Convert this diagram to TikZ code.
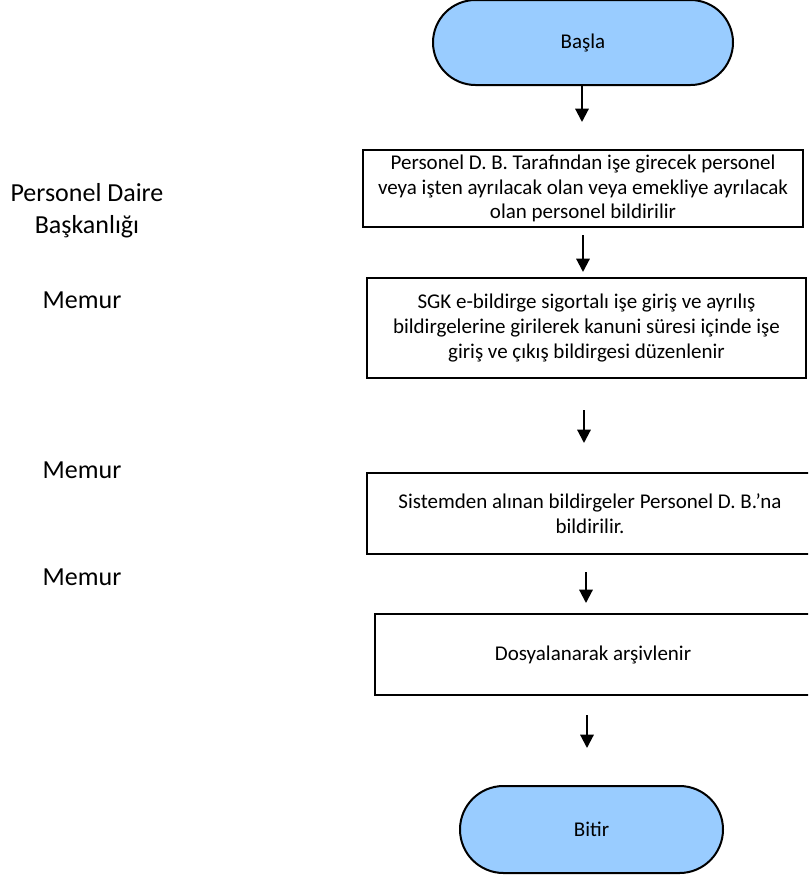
\documentclass[tikz,border=0pt]{standalone}
\usepackage{fontspec}
\setmainfont{Carlito}
\usetikzlibrary{shapes.misc,arrows.meta}
\definecolor{termblue}{RGB}{153,204,255}
\tikzset{
  terminal/.style={rounded rectangle, draw=black, line width=1.5pt, fill=termblue,
    font=\fontsize{15.75}{18.4}\selectfont, inner sep=0pt},
  procbox/.style={rectangle, draw=black, line width=1.8pt, fill=white, align=center,
    font=\fontsize{15.75}{18.4}\selectfont, inner sep=0pt},
  lanelabel/.style={align=center, font=\fontsize{19.5}{23.8}\selectfont, inner sep=0pt},
  flowarrow/.style={line width=1.6pt, -{Triangle[width=10pt,length=10pt]}}
}
\begin{document}
\begin{tikzpicture}[x=0.75pt,y=-0.75pt]
\useasboundingbox (0,0) rectangle (808,875);
\clip (0,0) rectangle (808,875);
% terminals and process boxes
\node[terminal, minimum width=225pt, minimum height=63.75pt] (start) at (583,42.5) {Başla};
\node[procbox, minimum width=330pt, minimum height=57.75pt] (p1) at (583,188.5)
  {Personel D. B. Tarafından işe girecek personel\\veya işten ayrılacak olan veya emekliye ayrılacak\\olan personel bildirilir};
\node[procbox, minimum width=329.25pt, minimum height=75pt] (p2) at (586.5,328)
  {SGK e-bildirge sigortalı işe giriş ve ayrılış\\bildirgelerine girilerek kanuni süresi içinde işe\\giriş ve çıkış bildirgesi düzenlenir};
\node[procbox, minimum width=334.5pt, minimum height=60.75pt] (p3) at (590,513.5)
  {Sistemden alınan bildirgeler Personel D. B.’na\\bildirilir.};
\node[procbox, minimum width=327pt, minimum height=60.75pt] (p4) at (593,654.5)
  {Dosyalanarak arşivlenir};
\node[terminal, minimum width=197.25pt, minimum height=65.25pt] (stop) at (591.5,829.5) {Bitir};
% lane labels
\node[lanelabel] (l1) at (87,211) {Personel Daire\\Başkanlığı};
\node[lanelabel] (l2) at (82,300) {Memur};
\node[lanelabel] (l3) at (82,470) {Memur};
\node[lanelabel] (l4) at (82,577) {Memur};
% arrow end points
\coordinate (a2s) at (583,235); \coordinate (a2e) at (583,272);
\coordinate (a3s) at (584,410); \coordinate (a3e) at (584,443);
\coordinate (a4s) at (586,572); \coordinate (a4e) at (586,603);
\coordinate (a5s) at (587,715); \coordinate (a5e) at (587,748);
\coordinate (a1e) at (582,122);
\draw[flowarrow] (start.south -| a1e) -- (a1e);
\draw[flowarrow] (a2s) -- (a2e);
\draw[flowarrow] (a3s) -- (a3e);
\draw[flowarrow] (a4s) -- (a4e);
\draw[flowarrow] (a5s) -- (a5e);
\end{tikzpicture}
\end{document}
